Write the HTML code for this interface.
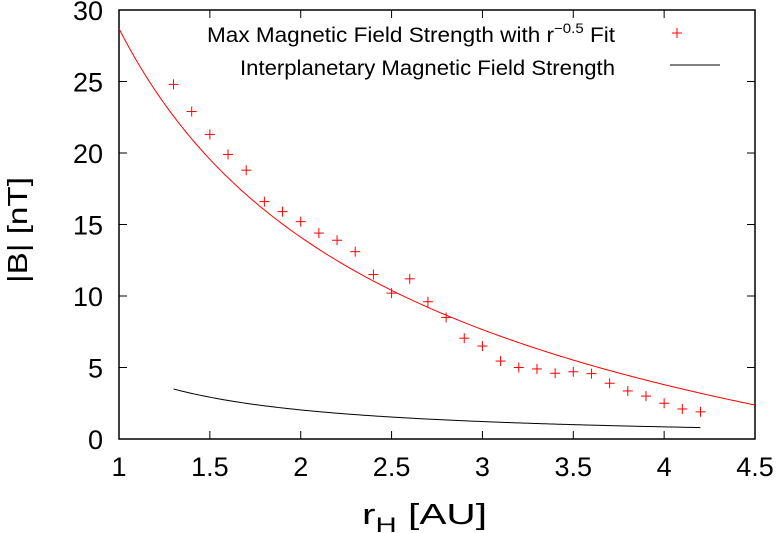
<!DOCTYPE html>
<html><head><meta charset="utf-8"><style>
html,body{margin:0;padding:0;background:#fff;}
svg{display:block;font-family:"Liberation Sans",sans-serif;}
</style></head><body>
<svg id="chart" width="779" height="533" viewBox="0 0 779 533">
<g id="axes"></g><g id="marks"></g>
<g>
<text x="207" y="42" font-size="21" textLength="408" lengthAdjust="spacingAndGlyphs">Max Magnetic Field Strength with r<tspan dy="-9" font-size="14">−0.5</tspan><tspan dy="9"> Fit</tspan></text>
<text x="240" y="75" font-size="21" textLength="375" lengthAdjust="spacingAndGlyphs">Interplanetary Magnetic Field Strength</text>
<g stroke="#f00" stroke-width="1"><line x1="672" y1="33" x2="682" y2="33"/><line x1="677" y1="28" x2="677" y2="38"/></g>
<line x1="670" y1="65" x2="720" y2="65" stroke="#000"/>
</g>
<text x="362" y="524" font-size="29" textLength="125" lengthAdjust="spacingAndGlyphs">r<tspan dy="8" font-size="21">H</tspan><tspan dy="-8"> [AU]</tspan></text>
<text transform="translate(27,283) rotate(-90)" font-size="28" textLength="106" lengthAdjust="spacingAndGlyphs">|B| [nT]</text>
</svg>
<script>
const xTicks=[1,1.5,2,2.5,3,3.5,4,4.5];
const xTickLabels=["1","1.5","2","2.5","3","3.5","4","4.5"];
const yTicks=[0,5,10,15,20,25,30];
const yTickLabels=["0","5","10","15","20","25","30"];
const rH=[1.3,1.4,1.5,1.6,1.7,1.8,1.9,2.0,2.1,2.2,2.3,2.4,2.5,2.6,2.7,2.8,2.9,3.0,3.1,3.2,3.3,3.4,3.5,3.6,3.7,3.8,3.9,4.0,4.1,4.2];
const maxB=[24.8,22.9,21.3,19.9,18.8,16.6,15.9,15.2,14.4,13.9,13.1,11.5,10.2,11.2,9.6,8.5,7.05,6.5,5.45,5.0,4.9,4.6,4.7,4.57,3.9,3.36,3.0,2.5,2.1,1.9];
const fitParams=[49.8,21.1];   // B = A*r^-0.5 - C
const imfParams=[3.5,1.3,1.26]; // B = a*(r0/r)^p
const imfRange=[1.3,4.2];
const fitRange=[1,4.5];
const X0=119,X1=755,Y0=439,Y1=10;
const xs=v=>X0+(v-1)/(4.5-1)*(X1-X0);
const ys=v=>Y0-(v/30)*(Y0-Y1);
const NS="http://www.w3.org/2000/svg";
function mk(t,a,p){const e=document.createElementNS(NS,t);for(const k in a)e.setAttribute(k,a[k]);p.appendChild(e);return e;}
const ax=document.getElementById('axes'),mg=document.getElementById('marks');
const frame=mk('rect',{x:X0,y:Y1,width:X1-X0,height:Y0-Y1,fill:'none',stroke:'#000','stroke-width':1.5},ax);


xTicks.forEach((v,i)=>{const x=xs(v);
 mk('line',{x1:x,y1:Y0,x2:x,y2:Y0-8,stroke:'#000'},ax);mk('line',{x1:x,y1:Y1,x2:x,y2:Y1+8,stroke:'#000'},ax);
 const t=mk('text',{x:x,y:Y0+37,'text-anchor':'middle','font-size':27},ax);t.textContent=xTickLabels[i];
 
 });
yTicks.forEach((v,i)=>{const y=ys(v);
 mk('line',{x1:X0,y1:y,x2:X0+8,y2:y,stroke:'#000'},ax);mk('line',{x1:X1,y1:y,x2:X1-8,y2:y,stroke:'#000'},ax);
 const t=mk('text',{x:X0-16,y:y+10,'text-anchor':'end','font-size':27},ax);t.textContent=yTickLabels[i];
 
 });
function curve(f,r0,r1){let d='';for(let i=0;i<=200;i++){const r=r0+(r1-r0)*i/200;d+=(i?'L':'M')+xs(r).toFixed(2)+','+ys(f(r)).toFixed(2);}return d;}
const fit=mk('path',{d:curve(r=>fitParams[0]/Math.sqrt(r)-fitParams[1],fitRange[0],fitRange[1]),fill:'none',stroke:'#f00','stroke-width':1},mg);


const imf=mk('path',{d:curve(r=>imfParams[0]*Math.pow(imfParams[1]/r,imfParams[2]),imfRange[0],imfRange[1]),fill:'none',stroke:'#000','stroke-width':1},mg);


rH.forEach((r,i)=>{const x=xs(r),y=ys(maxB[i]);
 const g=mk('g',{stroke:'#f00','stroke-width':1},mg);
 
 
 mk('line',{x1:x-5,y1:y,x2:x+5,y2:y},g);mk('line',{x1:x,y1:y-5,x2:x,y2:y+5},g);});
</script>
</body></html>
